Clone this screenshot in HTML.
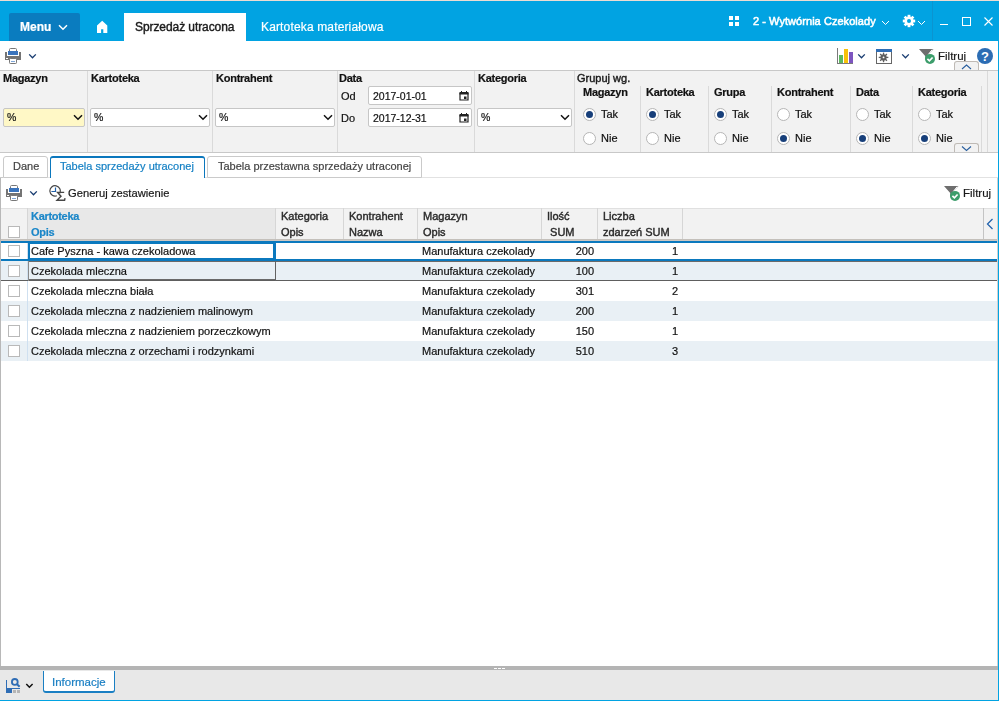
<!DOCTYPE html>
<html><head><meta charset="utf-8">
<style>
*{box-sizing:border-box;margin:0;padding:0}
html,body{width:999px;height:701px;overflow:hidden;background:#fff}
body{position:relative;font-family:"Liberation Sans",sans-serif;font-size:11px;color:#111}
.a{position:absolute}
.t{position:absolute;white-space:nowrap;line-height:12px;height:12px;will-change:transform;-webkit-text-stroke:0.2px currentColor}
.b{font-weight:bold;letter-spacing:-0.25px}
.m{-webkit-text-stroke:0.4px currentColor}
.vl{position:absolute;width:1px}
.hl{position:absolute;height:1px}
.sel{position:absolute;height:19px;background:#fff;border:1px solid #c6c6c6;border-radius:2px}
.sel .t{left:3px;top:3px;color:#111}
.chev{position:absolute;width:12px;height:8px}
.radio{position:absolute;width:13px;height:13px;border-radius:50%;background:#fff;border:1px solid #b5b5b5}
.radio.on:after{content:"";position:absolute;left:2px;top:2px;width:7px;height:7px;border-radius:50%;background:#173f7a}
.cb{position:absolute;width:12px;height:12px;border:1px solid #b9b9b9;background:#fff}
</style></head><body>

<!-- top strip -->
<div class="a" style="left:0;top:0;width:999px;height:1px;background:#ecdcd3"></div>
<!-- header -->
<div class="a" style="left:0;top:1px;width:999px;height:40px;background:#01a3e2"></div>
<div class="a" style="left:9px;top:13px;width:71px;height:28px;background:#0a7cbf;border-radius:2px 2px 0 0"></div>
<div class="t b" style="left:20px;top:21px;font-size:12px;color:#fff;letter-spacing:0">Menu</div>
<svg class="a" style="left:58px;top:24px" width="10" height="7" viewBox="0 0 10 7"><path d="M1 1.2 L5 5.2 L9 1.2" fill="none" stroke="#fff" stroke-width="1.5"/></svg>
<svg class="a" style="left:97px;top:20px" width="11" height="14" viewBox="0 0 11 14"><path d="M5.2 0.8 L10.3 5.6 V13 H6.3 V9.3 H4.1 V13 H0 V5.6 Z" fill="#fff"/></svg>
<div class="a" style="left:124px;top:13px;width:122px;height:28px;background:#fff"></div>
<div class="t m" style="left:135px;top:21px;font-size:12px;color:#1a1a1a;letter-spacing:-0.08px">Sprzedaż utracona</div>
<div class="t" style="left:261px;top:21px;font-size:12px;color:#fff;letter-spacing:0.15px">Kartoteka materiałowa</div>

<svg class="a" style="left:729px;top:16px" width="11" height="10" viewBox="0 0 11 10"><rect x="0" y="0" width="4" height="4" fill="#fff"/><rect x="6" y="0" width="4" height="4" fill="#fff"/><rect x="0" y="6" width="4" height="4" fill="#fff"/><rect x="6" y="6" width="4" height="4" fill="#fff"/></svg>
<div class="t" style="left:753px;top:15px;font-size:11px;color:#fff;-webkit-text-stroke:0.55px #fff;letter-spacing:0.05px">2 - Wytwórnia Czekolady</div>
<svg class="a" style="left:881px;top:20px" width="9" height="6" viewBox="0 0 9 6"><path d="M1 1 L4.5 4.5 L8 1" fill="none" stroke="#fff" stroke-width="1"/></svg>
<svg class="a" style="left:902px;top:14px" width="14" height="14" viewBox="0 0 14 14"><g fill="#fff"><circle cx="7" cy="7" r="4.6"/><rect x="5.6" y="0.8" width="2.8" height="12.4"/><rect x="0.8" y="5.6" width="12.4" height="2.8"/><rect x="5.6" y="0.8" width="2.8" height="12.4" transform="rotate(45 7 7)"/><rect x="5.6" y="0.8" width="2.8" height="12.4" transform="rotate(-45 7 7)"/></g><circle cx="7" cy="7" r="2" fill="#01a3e2"/></svg>
<svg class="a" style="left:917px;top:20px" width="9" height="6" viewBox="0 0 9 6"><path d="M1 1 L4.5 4.5 L8 1" fill="none" stroke="#fff" stroke-width="1"/></svg>
<div class="a" style="left:932px;top:1px;width:1px;height:40px;background:#0b94d0"></div>
<div class="a" style="left:940px;top:24px;width:8px;height:1px;background:#fff"></div>
<div class="a" style="left:962px;top:17px;width:9px;height:9px;border:1px solid #fff"></div>
<svg class="a" style="left:984px;top:17px" width="9" height="9" viewBox="0 0 9 9"><path d="M0.5 0.5 L8.5 8.5 M8.5 0.5 L0.5 8.5" stroke="#fff" stroke-width="1.1"/></svg>

<!-- window borders -->
<div class="a" style="left:998px;top:1px;width:1px;height:700px;background:#01a3e2"></div>
<div class="a" style="left:0;top:700px;width:999px;height:1px;background:#01a3e2"></div>

<!-- toolbar -->
<svg class="a" style="left:5px;top:47px" width="16" height="17" viewBox="0 0 16 17">
 <rect x="4.5" y="1.5" width="7" height="5" rx="1" fill="#fff" stroke="#777"/>
 <path d="M0 5 h2 v4 h12 v-4 h2 v8 h-16z" fill="#747474"/>
 <rect x="3" y="4" width="10" height="4" fill="#3a74bd"/>
 <rect x="1" y="11" width="2" height="1" fill="#fff"/>
 <rect x="4.5" y="11.5" width="7" height="5" rx="0.8" fill="#fff" stroke="#777"/>
 <rect x="6" y="14" width="4" height="1" fill="#7ea6d8"/>
</svg>
<svg class="a" style="left:28px;top:53px" width="9" height="7" viewBox="0 0 9 7"><path d="M1.2 1.4 L4.5 4.8 L7.8 1.4" fill="none" stroke="#173b70" stroke-width="1.3"/></svg>

<svg class="a" style="left:837px;top:48px" width="17" height="16" viewBox="0 0 17 16">
 <rect x="0" y="0" width="1" height="16" fill="#7a7a7a"/><rect x="0" y="15" width="16" height="1" fill="#7a7a7a"/>
 <rect x="2" y="7" width="4" height="8" fill="#5cb860"/><rect x="7" y="1" width="4" height="14" fill="#f8c10b"/><rect x="12" y="4" width="4" height="11" fill="#7d55c0"/>
</svg>
<svg class="a" style="left:857px;top:53px" width="9" height="7" viewBox="0 0 9 7"><path d="M1.2 1.4 L4.5 4.8 L7.8 1.4" fill="none" stroke="#173b70" stroke-width="1.3"/></svg>
<svg class="a" style="left:876px;top:49px" width="16" height="15" viewBox="0 0 16 15">
 <rect x="0.5" y="0.5" width="15" height="14" fill="#fff" stroke="#666"/>
 <rect x="0" y="0" width="16" height="3" fill="#2f6db5"/>
 <g fill="#5e5e5e"><circle cx="7.55" cy="8.4" r="3.1"/><rect x="6.9" y="3.6" width="1.3" height="9.6" transform="rotate(0 7.55 8.4)"/><rect x="6.9" y="3.6" width="1.3" height="9.6" transform="rotate(45 7.55 8.4)"/><rect x="6.9" y="3.6" width="1.3" height="9.6" transform="rotate(90 7.55 8.4)"/><rect x="6.9" y="3.6" width="1.3" height="9.6" transform="rotate(135 7.55 8.4)"/></g>
 <circle cx="7.55" cy="8.4" r="0.9" fill="#fff"/>
</svg>
<svg class="a" style="left:901px;top:53px" width="9" height="7" viewBox="0 0 9 7"><path d="M1.2 1.4 L4.5 4.8 L7.8 1.4" fill="none" stroke="#173b70" stroke-width="1.3"/></svg>
<svg class="a" style="left:919px;top:49px" width="17" height="16" viewBox="0 0 17 16">
 <path d="M0 0 H14.5 L8 7 V12 L6.2 10.5 V7 Z" fill="#6e6e6e"/>
 <path d="M13.2 0.6 L9.2 5.6" stroke="#fff" stroke-width="1"/>
 <circle cx="11" cy="9.9" r="5" fill="#3c9d6b"/>
 <path d="M8.4 9.9 L10.4 11.9 L13.6 8.5" fill="none" stroke="#fff" stroke-width="1.7"/>
</svg>
<div class="t" style="left:938px;top:50px;font-size:11.5px;color:#1a1a1a">Filtruj</div>
<svg class="a" style="left:977px;top:48px" width="16" height="16" viewBox="0 0 16 16"><circle cx="8" cy="8" r="8" fill="#2c6db4"/><text x="8" y="13" font-family="Liberation Sans" font-weight="bold" font-size="13" fill="#fff" text-anchor="middle">?</text></svg>

<!-- filter panel -->
<div class="a" style="left:0;top:70px;width:998px;height:83px;background:#f2f2f2;border-top:1px solid #c8c8c8;border-bottom:1px solid #c8c8c8"></div>
<div class="a" style="left:954px;top:61px;width:25px;height:9px;background:#f2f2f2;border:1px solid #bfbab5;border-bottom:none;border-radius:3px 3px 0 0"></div>
<svg class="a" style="left:961px;top:64px" width="11" height="6" viewBox="0 0 11 6"><path d="M1 5 L5.5 1 L10 5" fill="none" stroke="#2a5f9e" stroke-width="1.1"/></svg>
<div class="vl" style="left:87px;top:71px;height:81px;background:#dadada"></div>
<div class="vl" style="left:212px;top:71px;height:81px;background:#dadada"></div>
<div class="vl" style="left:337px;top:71px;height:81px;background:#dadada"></div>
<div class="vl" style="left:474px;top:71px;height:81px;background:#dadada"></div>
<div class="vl" style="left:574px;top:71px;height:81px;background:#dadada"></div>
<div class="vl" style="left:987px;top:71px;height:81px;background:#dadada"></div>
<div class="vl" style="left:640px;top:86px;height:66px;background:#dadada"></div>
<div class="vl" style="left:708px;top:86px;height:66px;background:#dadada"></div>
<div class="vl" style="left:771px;top:86px;height:66px;background:#dadada"></div>
<div class="vl" style="left:850px;top:86px;height:66px;background:#dadada"></div>
<div class="vl" style="left:912px;top:86px;height:66px;background:#dadada"></div>
<div class="vl" style="left:981px;top:86px;height:66px;background:#dadada"></div>
<div class="t b" style="left:3px;top:72px">Magazyn</div>
<div class="t b" style="left:91px;top:72px">Kartoteka</div>
<div class="t b" style="left:216px;top:72px">Kontrahent</div>
<div class="t b" style="left:339px;top:72px">Data</div>
<div class="t b" style="left:478px;top:72px">Kategoria</div>
<div class="t m" style="left:577px;top:72px;color:#1a1a1a">Grupuj wg.</div>
<div class="sel" style="left:3px;top:108px;width:82px;background:#fff8c6"><div class="t" style="left:3px;top:2px;font-size:10.5px">%</div></div>
<svg class="a" style="left:73px;top:114px" width="10" height="7" viewBox="0 0 10 7"><path d="M1 1.3 L5 5.3 L9 1.3" fill="none" stroke="#111" stroke-width="1.5"/></svg>
<div class="sel" style="left:90px;top:108px;width:120px;background:#fff"><div class="t" style="left:3px;top:2px;font-size:10.5px">%</div></div>
<svg class="a" style="left:198px;top:114px" width="10" height="7" viewBox="0 0 10 7"><path d="M1 1.3 L5 5.3 L9 1.3" fill="none" stroke="#111" stroke-width="1.5"/></svg>
<div class="sel" style="left:215px;top:108px;width:120px;background:#fff"><div class="t" style="left:3px;top:2px;font-size:10.5px">%</div></div>
<svg class="a" style="left:323px;top:114px" width="10" height="7" viewBox="0 0 10 7"><path d="M1 1.3 L5 5.3 L9 1.3" fill="none" stroke="#111" stroke-width="1.5"/></svg>
<div class="sel" style="left:477px;top:108px;width:95px;background:#fff"><div class="t" style="left:3px;top:2px;font-size:10.5px">%</div></div>
<svg class="a" style="left:560px;top:114px" width="10" height="7" viewBox="0 0 10 7"><path d="M1 1.3 L5 5.3 L9 1.3" fill="none" stroke="#111" stroke-width="1.5"/></svg>
<div class="t" style="left:341px;top:90px">Od</div>
<div class="t" style="left:341px;top:112px">Do</div>
<div class="sel" style="left:368px;top:86px;width:104px"><div class="t" style="left:4px;top:3px;font-size:10.5px">2017-01-01</div></div>
<svg class="a" style="left:459px;top:91px" width="10" height="10" viewBox="0 0 10 10"><path d="M1 2.5 h8 v6.5 h-8z" fill="none" stroke="#222" stroke-width="1.2"/><rect x="0.5" y="1" width="9" height="2.5" fill="#222"/><rect x="2" y="0" width="1" height="1.5" fill="#222"/><rect x="7" y="0" width="1" height="1.5" fill="#222"/><rect x="5" y="5.5" width="2.5" height="2.5" fill="#222"/></svg>
<div class="sel" style="left:368px;top:108px;width:104px"><div class="t" style="left:4px;top:3px;font-size:10.5px">2017-12-31</div></div>
<svg class="a" style="left:459px;top:113px" width="10" height="10" viewBox="0 0 10 10"><path d="M1 2.5 h8 v6.5 h-8z" fill="none" stroke="#222" stroke-width="1.2"/><rect x="0.5" y="1" width="9" height="2.5" fill="#222"/><rect x="2" y="0" width="1" height="1.5" fill="#222"/><rect x="7" y="0" width="1" height="1.5" fill="#222"/><rect x="5" y="5.5" width="2.5" height="2.5" fill="#222"/></svg>
<div class="t b" style="left:583px;top:86px">Magazyn</div>
<div class="radio on" style="left:583px;top:108px"></div>
<div class="radio" style="left:583px;top:132px"></div>
<div class="t" style="left:601px;top:108px">Tak</div>
<div class="t" style="left:601px;top:132px">Nie</div>
<div class="t b" style="left:646px;top:86px">Kartoteka</div>
<div class="radio on" style="left:646px;top:108px"></div>
<div class="radio" style="left:646px;top:132px"></div>
<div class="t" style="left:664px;top:108px">Tak</div>
<div class="t" style="left:664px;top:132px">Nie</div>
<div class="t b" style="left:714px;top:86px">Grupa</div>
<div class="radio on" style="left:714px;top:108px"></div>
<div class="radio" style="left:714px;top:132px"></div>
<div class="t" style="left:732px;top:108px">Tak</div>
<div class="t" style="left:732px;top:132px">Nie</div>
<div class="t b" style="left:777px;top:86px">Kontrahent</div>
<div class="radio" style="left:777px;top:108px"></div>
<div class="radio on" style="left:777px;top:132px"></div>
<div class="t" style="left:795px;top:108px">Tak</div>
<div class="t" style="left:795px;top:132px">Nie</div>
<div class="t b" style="left:856px;top:86px">Data</div>
<div class="radio" style="left:856px;top:108px"></div>
<div class="radio on" style="left:856px;top:132px"></div>
<div class="t" style="left:874px;top:108px">Tak</div>
<div class="t" style="left:874px;top:132px">Nie</div>
<div class="t b" style="left:918px;top:86px">Kategoria</div>
<div class="radio" style="left:918px;top:108px"></div>
<div class="radio on" style="left:918px;top:132px"></div>
<div class="t" style="left:936px;top:108px">Tak</div>
<div class="t" style="left:936px;top:132px">Nie</div>
<div class="a" style="left:954px;top:143px;width:25px;height:9px;background:#f2f2f2;border:1px solid #bfbab5;border-bottom:none;border-radius:3px 3px 0 0"></div>
<svg class="a" style="left:961px;top:145px" width="11" height="7" viewBox="0 0 11 7"><path d="M1 1.5 L5.5 5.5 L10 1.5" fill="none" stroke="#2a5f9e" stroke-width="1.1"/></svg>
<div class="hl" style="left:0;top:177px;width:998px;background:#e2e2e2"></div><div class="hl" style="left:0;top:177px;width:3px;background:#cacaca"></div>
<div class="a" style="left:3px;top:156px;width:45px;height:22px;background:#fff;border:1px solid #cacaca;border-radius:3px 3px 0 0"></div>
<div class="t" style="left:13px;top:160px;color:#444">Dane</div>
<div class="a" style="left:50px;top:156px;width:155px;height:22px;background:#fff;border:1px solid #0b77bd;border-top-width:2px;border-bottom:none;border-radius:3px 3px 0 0"></div>
<div class="t" style="left:60px;top:160px;color:#1580c4">Tabela sprzedaży utraconej</div>
<div class="a" style="left:207px;top:156px;width:215px;height:22px;background:#fff;border:1px solid #cacaca;border-radius:3px 3px 0 0"></div>
<div class="t" style="left:218px;top:160px;color:#444">Tabela przestawna sprzedaży utraconej</div>
<div class="vl" style="left:0;top:178px;height:488px;background:#b8b8b8"></div>
<svg class="a" style="left:6px;top:184px" width="16" height="17" viewBox="0 0 16 17">
 <rect x="4.5" y="1.5" width="7" height="5" rx="1" fill="#fff" stroke="#777"/>
 <path d="M0 5 h2 v4 h12 v-4 h2 v8 h-16z" fill="#747474"/>
 <rect x="3" y="4" width="10" height="4" fill="#3a74bd"/>
 <rect x="1" y="11" width="2" height="1" fill="#fff"/>
 <rect x="4.5" y="11.5" width="7" height="5" rx="0.8" fill="#fff" stroke="#777"/>
 <rect x="6" y="14" width="4" height="1" fill="#7ea6d8"/>
</svg>
<svg class="a" style="left:29px;top:190px" width="9" height="7" viewBox="0 0 9 7"><path d="M1.2 1.4 L4.5 4.8 L7.8 1.4" fill="none" stroke="#173b70" stroke-width="1.3"/></svg>
<svg class="a" style="left:49px;top:185px" width="17" height="17" viewBox="0 0 17 17">
 <path d="M10.6 8.5 A5.2 5.2 0 1 0 7.9 10.8" fill="none" stroke="#464646" stroke-width="1.2"/>
 <path d="M6.5 2.6 V6.5 H2.4" fill="none" stroke="#1f5fa8" stroke-width="1.2"/>
 <path d="M15.2 7.4 H8.6 L12 11.2 L8 15.3 H15.6 L16 13.2" fill="none" stroke="#464646" stroke-width="1.4" stroke-linejoin="miter"/>
</svg>
<div class="t" style="left:68px;top:187px;color:#1a1a1a;font-size:11.2px">Generuj zestawienie</div>
<svg class="a" style="left:944px;top:186px" width="17" height="16" viewBox="0 0 17 16">
 <path d="M0 0 H14.5 L8 7 V12 L6.2 10.5 V7 Z" fill="#6e6e6e"/>
 <path d="M13.2 0.6 L9.2 5.6" stroke="#fff" stroke-width="1"/>
 <circle cx="11" cy="9.9" r="5" fill="#3c9d6b"/>
 <path d="M8.4 9.9 L10.4 11.9 L13.6 8.5" fill="none" stroke="#fff" stroke-width="1.7"/>
</svg>
<div class="t" style="left:963px;top:187px;color:#1a1a1a;font-size:11.5px">Filtruj</div>
<div class="a" style="left:1px;top:208px;width:997px;height:31px;background:#f2f2f2"></div>
<div class="a" style="left:28px;top:208px;width:247px;height:31px;background:#e8e8e8"></div>
<div class="hl" style="left:1px;top:208px;width:997px;background:#e0e0e0"></div>
<div class="hl" style="left:1px;top:239px;width:997px;background:#c4c0bb"></div>
<div class="vl" style="left:27px;top:208px;height:31px;background:#d6d6d6"></div>
<div class="vl" style="left:275px;top:208px;height:31px;background:#d6d6d6"></div>
<div class="vl" style="left:343px;top:208px;height:31px;background:#d6d6d6"></div>
<div class="vl" style="left:417px;top:208px;height:31px;background:#d6d6d6"></div>
<div class="vl" style="left:541px;top:208px;height:31px;background:#d6d6d6"></div>
<div class="vl" style="left:597px;top:208px;height:31px;background:#d6d6d6"></div>
<div class="vl" style="left:682px;top:208px;height:31px;background:#d6d6d6"></div>
<div class="vl" style="left:983px;top:208px;height:31px;background:#c4c4c4"></div>
<div class="cb" style="left:8px;top:226px"></div>
<div class="t b" style="left:31px;top:210px;color:#1a86c8;letter-spacing:-0.3px">Kartoteka</div>
<div class="t b" style="left:31px;top:226px;color:#1a86c8;letter-spacing:-0.3px">Opis</div>
<div class="t m" style="left:281px;top:210px;color:#2a2a2a">Kategoria</div>
<div class="t m" style="left:281px;top:226px;color:#2a2a2a">Opis</div>
<div class="t m" style="left:349px;top:210px;color:#2a2a2a">Kontrahent</div>
<div class="t m" style="left:349px;top:226px;color:#2a2a2a">Nazwa</div>
<div class="t m" style="left:423px;top:210px;color:#2a2a2a">Magazyn</div>
<div class="t m" style="left:423px;top:226px;color:#2a2a2a">Opis</div>
<div class="t m" style="left:547px;top:210px;color:#2a2a2a">Ilość</div>
<div class="t m" style="left:547px;top:226px;color:#2a2a2a">&nbsp;SUM</div>
<div class="t m" style="left:603px;top:210px;color:#2a2a2a">Liczba</div>
<div class="t m" style="left:603px;top:226px;color:#2a2a2a">zdarzeń SUM</div>
<svg class="a" style="left:986px;top:218px" width="8" height="12" viewBox="0 0 8 12"><path d="M6.5 1 L1.5 6 L6.5 11" fill="none" stroke="#2464ad" stroke-width="1.3"/></svg>
<div class="cb" style="left:8px;top:245px"></div>
<div class="t" style="left:31px;top:245px">Cafe Pyszna - kawa czekoladowa</div>
<div class="t" style="left:422px;top:245px">Manufaktura czekolady</div>
<div class="t" style="left:560px;top:245px;width:34px;text-align:right">200</div>
<div class="t" style="left:640px;top:245px;width:38px;text-align:right">1</div>
<div class="a" style="left:1px;top:261px;width:997px;height:20px;background:#e9f0f5"></div>
<div class="cb" style="left:8px;top:265px"></div>
<div class="t" style="left:31px;top:265px">Czekolada mleczna</div>
<div class="t" style="left:422px;top:265px">Manufaktura czekolady</div>
<div class="t" style="left:560px;top:265px;width:34px;text-align:right">100</div>
<div class="t" style="left:640px;top:265px;width:38px;text-align:right">1</div>
<div class="cb" style="left:8px;top:285px"></div>
<div class="t" style="left:31px;top:285px">Czekolada mleczna biała</div>
<div class="t" style="left:422px;top:285px">Manufaktura czekolady</div>
<div class="t" style="left:560px;top:285px;width:34px;text-align:right">301</div>
<div class="t" style="left:640px;top:285px;width:38px;text-align:right">2</div>
<div class="a" style="left:1px;top:301px;width:997px;height:20px;background:#e9f0f5"></div>
<div class="cb" style="left:8px;top:305px"></div>
<div class="t" style="left:31px;top:305px">Czekolada mleczna z nadzieniem malinowym</div>
<div class="t" style="left:422px;top:305px">Manufaktura czekolady</div>
<div class="t" style="left:560px;top:305px;width:34px;text-align:right">200</div>
<div class="t" style="left:640px;top:305px;width:38px;text-align:right">1</div>
<div class="cb" style="left:8px;top:325px"></div>
<div class="t" style="left:31px;top:325px">Czekolada mleczna z nadzieniem porzeczkowym</div>
<div class="t" style="left:422px;top:325px">Manufaktura czekolady</div>
<div class="t" style="left:560px;top:325px;width:34px;text-align:right">150</div>
<div class="t" style="left:640px;top:325px;width:38px;text-align:right">1</div>
<div class="a" style="left:1px;top:341px;width:997px;height:20px;background:#e9f0f5"></div>
<div class="cb" style="left:8px;top:345px"></div>
<div class="t" style="left:31px;top:345px">Czekolada mleczna z orzechami i rodzynkami</div>
<div class="t" style="left:422px;top:345px">Manufaktura czekolady</div>
<div class="t" style="left:560px;top:345px;width:34px;text-align:right">510</div>
<div class="t" style="left:640px;top:345px;width:38px;text-align:right">3</div>
<div class="vl" style="left:27px;top:240px;height:121px;background:#cfe0f0"></div>
<div class="hl" style="left:1px;top:240px;width:997px;background:#cdc8c3"></div>
<div class="hl" style="left:1px;top:241px;width:996px;height:2px;background:#0b79be"></div>
<div class="hl" style="left:1px;top:259px;width:996px;height:2px;background:#0b79be"></div>
<div class="a" style="left:28px;top:241px;width:248px;height:20px;border:3px solid #0b79be;border-left-width:2px"></div>
<div class="hl" style="left:28px;top:261px;width:970px;background:#6a6a6a"></div>
<div class="hl" style="left:1px;top:280px;width:996px;background:#5e5e5e"></div><div class="hl" style="left:28px;top:279px;width:248px;background:#6a6a6a"></div>
<div class="vl" style="left:275px;top:261px;height:20px;background:#626262"></div><div class="vl" style="left:28px;top:261px;height:20px;background:#8a8a8a"></div>
<div class="a" style="left:0;top:666px;width:998px;height:4px;background:#b4b4b4"></div>
<div class="a" style="left:494px;top:668px;width:3px;height:1px;background:#fff"></div>
<div class="a" style="left:498px;top:668px;width:3px;height:1px;background:#fff"></div>
<div class="a" style="left:502px;top:668px;width:3px;height:1px;background:#fff"></div>
<div class="a" style="left:0;top:670px;width:998px;height:30px;background:#e8e8e8"></div>
<svg class="a" style="left:5px;top:677px" width="16" height="17" viewBox="0 0 16 17">
 <rect x="1" y="3" width="1" height="12" fill="#2f6db5"/><rect x="1" y="11" width="14" height="1" fill="#2f6db5"/>
 <rect x="1" y="11" width="6" height="5" fill="#2f6db5"/>
 <rect x="8" y="13" width="3" height="3" fill="#b5b5b5"/><rect x="12" y="13" width="3" height="3" fill="#b5b5b5"/>
 <circle cx="9.8" cy="4.9" r="2.9" fill="none" stroke="#2f6db5" stroke-width="1.8"/>
 <path d="M11.8 7 L14.6 9.8" stroke="#2f6db5" stroke-width="2"/>
</svg>
<svg class="a" style="left:25px;top:683px" width="9" height="6" viewBox="0 0 9 6"><path d="M1.3 0.9 L4.4 4.2 L7.6 0.9" fill="none" stroke="#111" stroke-width="1.5"/></svg>
<div class="a" style="left:43px;top:671px;width:72px;height:22px;background:#fff;border:1px solid #1a7fc3;border-top:none;border-bottom-width:2px;border-radius:0 0 3px 3px"></div>
<div class="t" style="left:52px;top:676px;color:#1a7fc3;font-size:11.5px">Informacje</div>
<div class="vl" style="left:997px;top:178px;height:488px;background:#d0d0d0"></div>
</body></html>
